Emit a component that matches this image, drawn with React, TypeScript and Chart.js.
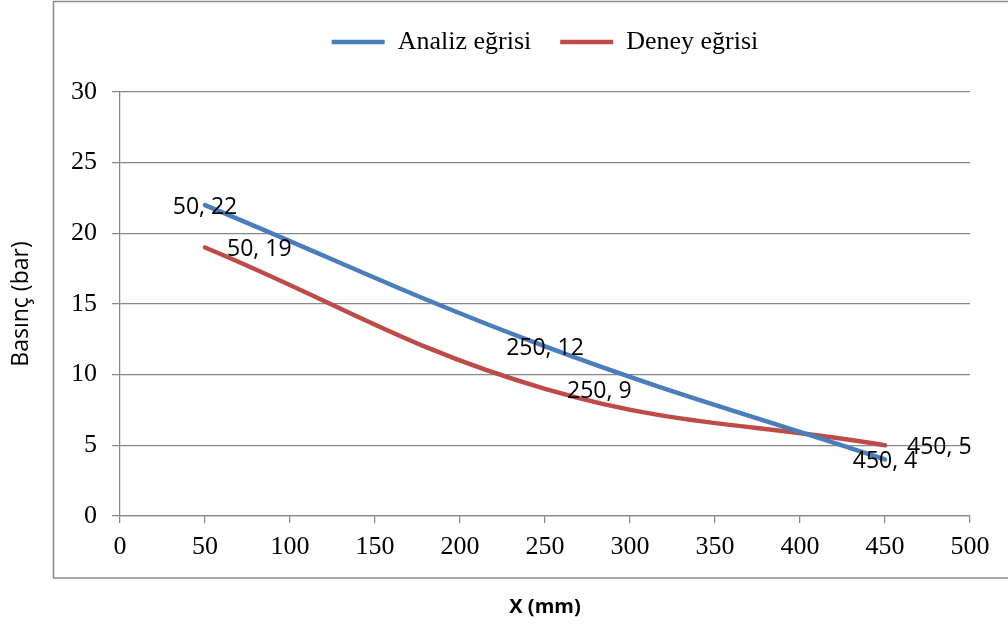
import React, { useEffect, useRef } from "react";
import { Chart, registerables } from "chart.js";

Chart.register(...registerables);

// ---- data ----
const xValues = [50, 250, 450];
const analizValues = [22, 12, 4];
const deneyValues = [19, 9, 5];
const seriesNames = ["Analiz eğrisi", "Deney eğrisi"];
const xAxisTitle = "X (mm)";
const yAxisTitle = "Basınç (bar)";
const xMin = 0, xMax = 500, xStep = 50;
const yMin = 0, yMax = 30, yStep = 5;

// ---- style ----
const COLORS = ["#4A7EBB", "#BE4B48"];
const GRID = "#878787";
const labelPlacement = [
  { align: "center" as CanvasTextAlign, dx: 0, dy: 9 },
  { align: "left" as CanvasTextAlign, dx: 22, dy: 9 },
];

const outerBorder = {
  id: "outerBorder",
  beforeDraw(chart: any) {
    const ctx = chart.ctx;
    ctx.save();
    ctx.strokeStyle = "#8a8a8a";
    ctx.lineWidth = 1.5;
    ctx.strokeRect(53.5, 1.5, 1010, 576.5);
    ctx.restore();
  },
};

const legendHeight = {
  id: "legendHeight",
  beforeInit(chart: any) {
    const legend = chart.legend;
    if (!legend) return;
    const orig = legend.fit;
    legend.fit = function () {
      orig.call(this);
      this.height = 92;
    };
  },
};

const pointLabels = {
  id: "pointLabels",
  afterDatasetsDraw(chart: any) {
    const ctx = chart.ctx;
    ctx.save();
    ctx.font = "23px 'Open Sans'";
    ctx.fillStyle = "#000";
    ctx.textBaseline = "alphabetic";
    chart.data.datasets.forEach((ds: any, i: number) => {
      const meta = chart.getDatasetMeta(i);
      const pl = labelPlacement[i];
      meta.data.forEach((el: any, j: number) => {
        const pt = ds.data[j];
        ctx.textAlign = pl.align;
        ctx.fillText(`${pt.x}, ${pt.y}`, el.x + pl.dx, el.y + pl.dy);
      });
    });
    ctx.restore();
  },
};

export default function App() {
  const ref = useRef<HTMLCanvasElement>(null);
  useEffect(() => {
    if (!ref.current) return;
    const seriesValues = [analizValues, deneyValues];
    const chart = new Chart(ref.current, {
      type: "line",
      data: {
        datasets: seriesNames.map((name, i) => ({
          label: name,
          data: xValues.map((x, j) => ({ x, y: seriesValues[i][j] })),
          borderColor: COLORS[i],
          backgroundColor: COLORS[i],
          borderWidth: 4.5,
          borderCapStyle: "round",
          pointRadius: 0,
          pointHoverRadius: 0,
          tension: 0.4,
          fill: false,
          pointStyle: "line",
        })),
      },
      options: {
        responsive: false,
        animation: false,
        color: "#000",
        layout: { padding: { left: 0, right: 38, top: 0, bottom: 0 } },
        plugins: {
          tooltip: { enabled: false },
          legend: {
            position: "top",
            fullSize: false,
            labels: {
              usePointStyle: true,
              pointStyleWidth: 53,
              padding: 29,
              color: "#000",
              font: { family: "'Liberation Serif'", size: 26 },
            },
          },
        },
        scales: {
          x: {
            type: "linear",
            min: xMin,
            max: xMax,
            afterFit(scale: any) {
              scale.height = 114;
            },
            ticks: {
              stepSize: xStep,
              color: "#000",
              padding: 9,
              maxRotation: 0,
              font: { family: "'Liberation Serif'", size: 26 },
            },
            grid: {
              drawOnChartArea: false,
              drawTicks: true,
              tickLength: 7,
              color: GRID,
              lineWidth: 1.25,
            },
            border: { display: true, color: GRID, width: 1.25 },
            title: {
              display: true,
              text: xAxisTitle,
              color: "#000",
              font: { family: "'Open Sans'", size: 20, weight: "bold" },
              padding: { top: 0, bottom: 11 },
            },
          },
          y: {
            type: "linear",
            min: yMin,
            max: yMax,
            afterFit(scale: any) {
              scale.width = 120;
            },
            ticks: {
              stepSize: yStep,
              color: "#000",
              padding: 15,
              font: { family: "'Liberation Serif'", size: 26 },
            },
            grid: {
              drawOnChartArea: true,
              drawTicks: true,
              tickLength: 8,
              color: GRID,
              lineWidth: 1.25,
            },
            border: { display: true, color: GRID, width: 1.25 },
            title: {
              display: true,
              text: yAxisTitle,
              color: "#000",
              font: { family: "'Open Sans'", size: 23 },
              padding: { top: 8, bottom: 0 },
            },
          },
        },
      },
      plugins: [outerBorder, legendHeight, pointLabels],
    });
    return () => chart.destroy();
  }, []);
  return (
    <div style={{ position: "absolute", left: 0, top: 0, width: 1008, height: 630, background: "#fff" }}>
      <canvas ref={ref} width={1008} height={630} />
    </div>
  );
}
